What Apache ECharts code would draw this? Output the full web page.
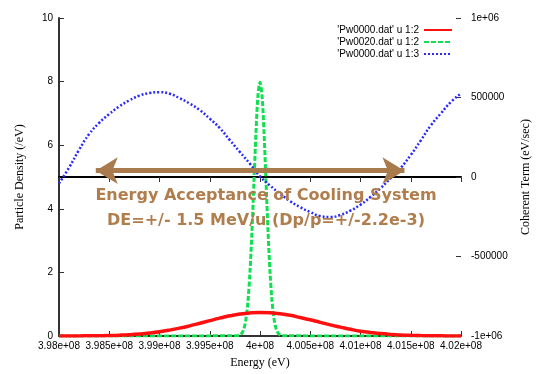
<!DOCTYPE html>
<html>
<head>
<meta charset="utf-8">
<script src="https://cdn.jsdelivr.net/npm/echarts@6/dist/echarts.min.js"></script>
<style>html,body{margin:0;padding:0;background:#fff;}#c{width:540px;height:374px;}</style>
</head>
<body>
<div id="c"></div>
<script>
// Energies (MeV) for the red and blue curves
const energyMeV = [398.0,398.1,398.2,398.3,398.4,398.5,398.6,398.7,398.8,398.9,
  399.0,399.1,399.2,399.3,399.4,399.5,399.6,399.7,399.8,399.9,
  400.0,400.1,400.2,400.3,400.4,400.5,400.6,400.7,400.8,400.9,
  401.0,401.1,401.2,401.3,401.4,401.5,401.6,401.7,401.8,401.9,402.0];
// 'Pw0000.dat' u 1:2  (particle density, /eV)
const redDensity = [0.001,0.002,0.003,0.006,0.010,0.016,0.026,0.041,0.063,0.093,
  0.133,0.185,0.247,0.319,0.399,0.482,0.562,0.634,0.691,0.727,
  0.740,0.730,0.700,0.650,0.580,0.510,0.430,0.350,0.280,0.210,
  0.150,0.110,0.075,0.050,0.032,0.020,0.012,0.007,0.004,0.002,0.001];
// 'Pw0000.dat' u 1:3  (coherent term, eV/sec)
const blueCoherent = [-40000,59000,171000,270000,341000,396000,444000,482000,512000,528000,
  533000,524000,496000,462000,421000,367000,308000,232000,157000,83000,
  4000,-54000,-105000,-152000,-190000,-220000,-246000,-252000,-239000,-211000,
  -174000,-125000,-70000,-7000,57000,138000,230000,325000,400000,472000,525000];
// 'Pw0020.dat' u 1:2  (narrow peak)
const greenEnergyMeV = [398.0,399.76,399.78,399.80,399.82,399.84,399.86,399.88,399.90,399.92,399.94,399.96,399.98,
  400.00,400.02,400.04,400.06,400.08,400.10,400.12,400.14,400.16,400.18,400.20,400.22,400.24,402.0];
const greenDensity = [0,0.005,0.01,0.03,0.09,0.23,0.53,1.08,2.00,3.29,4.85,6.41,7.57,
  7.98,7.57,6.41,4.85,3.29,2.00,1.08,0.53,0.23,0.09,0.03,0.01,0.005,0];

const xTickLabels = ['3.98e+08','3.985e+08','3.99e+08','3.995e+08','4e+08','4.005e+08','4.01e+08','4.015e+08','4.02e+08'];
const leftTickLabels = ['0','2','4','6','8','10'];
const rightTickLabels = ['-1e+06','-500000','0','500000','1e+06'];
const seriesNames = ["'Pw0000.dat' u 1:2","'Pw0020.dat' u 1:2","'Pw0000.dat' u 1:3"];
const arrowStartMeV = 398.366, arrowEndMeV = 401.437, arrowLevel = 5.2;
const annotationLines = ['Energy Acceptance of Cooling System','DE=+/- 1.5 MeV/u (Dp/p=+/-2.2e-3)'];

const toPairs = (xs, ys) => xs.map((x, i) => [x * 1e6, ys[i]]);
const XMIN = 3.98e8, XMAX = 4.02e8, XSTEP = 5e5;
const labelFont = {fontFamily: 'Liberation Sans', fontSize: 10, color: '#000'};

const chart = echarts.init(document.getElementById('c'), null, {renderer: 'canvas'});
chart.setOption({
  animation: false,
  backgroundColor: '#fff',
  grid: {left: 59, right: 69, top: 18, bottom: 32, containLabel: false},
  legend: {
    orient: 'vertical', right: 82, top: 20, align: 'right',
    itemWidth: 28, itemHeight: 8, itemGap: 2,
    itemStyle: {opacity: 0},
    textStyle: {fontFamily: 'Liberation Sans', fontSize: 10, color: '#000'},
    data: seriesNames
  },
  xAxis: [{
    type: 'value', min: XMIN, max: XMAX, interval: XSTEP, position: 'bottom',
    name: 'Energy (eV)', nameLocation: 'middle', nameGap: 21,
    nameTextStyle: {fontFamily: 'Liberation Serif', fontSize: 12, color: '#000'},
    axisLine: {show: true, lineStyle: {color: '#333', width: 2}},
    axisTick: {show: true, inside: true, length: 5, lineStyle: {color: '#333'}},
    axisLabel: Object.assign({margin: 5, formatter: v => xTickLabels[Math.round((v - XMIN) / XSTEP)]}, labelFont),
    splitLine: {show: false}
  }, {
    type: 'value', min: XMIN, max: XMAX, interval: XSTEP, position: 'top',
    axisLine: {show: true, lineStyle: {color: '#000', width: 2}},
    axisTick: {show: true, inside: true, length: 5, lineStyle: {color: '#333'}},
    axisLabel: {show: false}, splitLine: {show: false}
  }],
  yAxis: [{
    type: 'value', min: 0, max: 10, interval: 2, position: 'left',
    name: 'Particle Density (/eV)', nameLocation: 'middle', nameGap: 33, nameRotate: 90,
    nameTextStyle: {fontFamily: 'Liberation Serif', fontSize: 12, color: '#000'},
    axisLine: {show: true, lineStyle: {color: '#333', width: 2}},
    axisTick: {show: true, inside: true, length: 5, lineStyle: {color: '#333'}},
    axisLabel: Object.assign({margin: 6, formatter: v => leftTickLabels[Math.round(v / 2)]}, labelFont),
    splitLine: {show: false}
  }, {
    type: 'value', min: -1e6, max: 1e6, interval: 5e5, position: 'right',
    name: 'Coherent Term (eV/sec)', nameLocation: 'middle', nameGap: 59, nameRotate: 90,
    nameTextStyle: {fontFamily: 'Liberation Serif', fontSize: 12, color: '#000'},
    axisLine: {show: false},
    axisTick: {show: true, inside: true, length: 5, lineStyle: {color: '#333'}},
    axisLabel: Object.assign({margin: 10, formatter: v => rightTickLabels[Math.round((v + 1e6) / 5e5)]}, labelFont),
    splitLine: {show: false}
  }],
  series: [{
    name: seriesNames[0], type: 'line', xAxisIndex: 0, yAxisIndex: 0,
    data: toPairs(energyMeV, redDensity), symbol: 'none', smooth: true,
    lineStyle: {color: '#ff1010', width: 3.5}, itemStyle: {color: '#ff1010'}, z: 3,
    markLine: {
      silent: true, symbol: ['arrow', 'arrow'], symbolSize: [20, 22],
      label: {show: false},
      lineStyle: {color: '#a97a4c', width: 5, type: 'solid'},
      emphasis: {disabled: true},
      data: [[{coord: [arrowStartMeV * 1e6, arrowLevel]}, {coord: [arrowEndMeV * 1e6, arrowLevel]}]]
    }
  }, {
    name: seriesNames[1], type: 'line', xAxisIndex: 0, yAxisIndex: 0,
    data: toPairs(greenEnergyMeV, greenDensity), symbol: 'none', smooth: 0.3,
    lineStyle: {color: '#10e050', width: 3, type: [5, 2]}, itemStyle: {color: '#10e050'}, z: 2
  }, {
    name: seriesNames[2], type: 'line', xAxisIndex: 0, yAxisIndex: 1,
    data: toPairs(energyMeV, blueCoherent), symbol: 'none', smooth: true,
    lineStyle: {color: '#2828ff', width: 2.5, type: [2, 2]}, itemStyle: {color: '#2828ff'}, z: 4
  }],
  graphic: [{
    type: 'text', x: 266, y: 188, z: 10,
    style: {text: annotationLines[0], align: 'center', verticalAlign: 'top', fill: '#b07d4d',
      font: 'bold 16px "DejaVu Sans"'}
  }, {
    type: 'text', x: 266, y: 213, z: 10,
    style: {text: annotationLines[1], align: 'center', verticalAlign: 'top', fill: '#b07d4d',
      font: 'bold 16px "DejaVu Sans"'}
  }]
});
</script>
</body>
</html>
